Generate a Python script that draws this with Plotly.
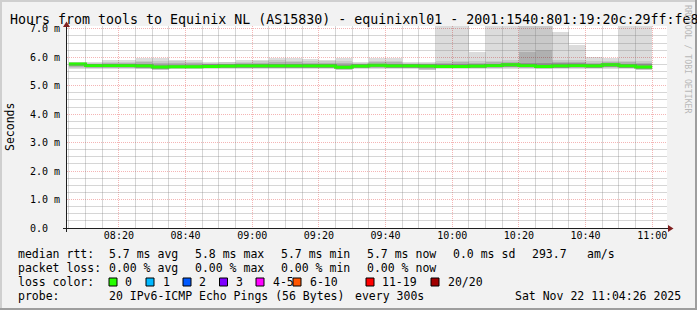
import plotly.graph_objects as go
import pandas as pd
import math

# ---------------- data ----------------
bin_starts = pd.date_range("2025-11-22 08:05", periods=35, freq="5min")
bin_centers = bin_starts + pd.Timedelta(minutes=2.5)
line_x = list(bin_starts) + [bin_starts[-1] + pd.Timedelta(minutes=5)]

smoke_max = [5.85, 5.83, 5.89, 5.89, 5.96, 5.96, 5.91, 5.90, 5.84, 5.85, 5.90, 5.90,
             5.99, 5.99, 5.93, 5.91, 5.99, 5.84, 5.96, 5.98, 5.84, 5.84, 7.60, 7.60,
             6.18, 7.60, 7.60, 7.60, 7.60, 6.89, 6.44, 6.00, 5.96, 7.60, 7.60]
smoke_hi2 = [5.82, 5.80, 5.84, 5.85, 5.88, 5.88, 5.86, 5.84, 5.81, 5.82, 5.85, 5.86,
             5.90, 5.88, 5.87, 5.86, 5.88, 5.81, 5.88, 5.88, 5.81, 5.81, 5.86, 5.88,
             5.86, 5.88, 5.90, 7.60, 7.60, 5.90, 5.90, 5.86, 5.88, 5.88, 5.86]
smoke_hi3 = [5.80, 5.77, 5.80, 5.80, 5.82, 5.80, 5.80, 5.79, 5.78, 5.78, 5.80, 5.81,
             5.83, 5.82, 5.81, 5.81, 5.80, 5.78, 5.82, 5.82, 5.78, 5.78, 5.81, 5.82,
             5.81, 5.82, 5.84, 6.20, 6.26, 5.84, 5.84, 5.81, 5.83, 5.82, 5.80]
smoke_q75 = [5.79, 5.76, 5.77, 5.77, 5.77, 5.74, 5.74, 5.74, 5.75, 5.75, 5.76, 5.77,
             5.77, 5.77, 5.77, 5.77, 5.73, 5.75, 5.78, 5.77, 5.76, 5.75, 5.78, 5.78,
             5.77, 5.78, 5.80, 5.80, 5.80, 5.80, 5.80, 5.77, 5.80, 5.77, 5.75]
smoke_q25 = [5.69, 5.65, 5.65, 5.65, 5.64, 5.60, 5.62, 5.62, 5.63, 5.64, 5.64, 5.64,
             5.64, 5.64, 5.64, 5.64, 5.59, 5.63, 5.65, 5.64, 5.64, 5.62, 5.64, 5.64,
             5.64, 5.65, 5.67, 5.65, 5.63, 5.64, 5.65, 5.64, 5.67, 5.64, 5.60]
smoke_lo3 = [5.66, 5.63, 5.63, 5.63, 5.62, 5.58, 5.61, 5.61, 5.62, 5.62, 5.62, 5.62,
             5.62, 5.62, 5.62, 5.62, 5.58, 5.62, 5.63, 5.62, 5.62, 5.59, 5.62, 5.62,
             5.62, 5.63, 5.65, 5.63, 5.61, 5.62, 5.63, 5.62, 5.65, 5.62, 5.58]
smoke_lo2 = [5.62, 5.61, 5.61, 5.61, 5.60, 5.57, 5.60, 5.60, 5.61, 5.61, 5.61, 5.61,
             5.61, 5.61, 5.61, 5.61, 5.57, 5.61, 5.61, 5.61, 5.61, 5.57, 5.61, 5.61,
             5.61, 5.61, 5.63, 5.61, 5.60, 5.61, 5.61, 5.61, 5.63, 5.61, 5.57]
smoke_min = [5.59, 5.59, 5.59, 5.59, 5.58, 5.55, 5.58, 5.58, 5.59, 5.59, 5.59, 5.59,
             5.59, 5.59, 5.59, 5.59, 5.55, 5.59, 5.59, 5.59, 5.59, 5.54, 5.59, 5.59,
             5.59, 5.59, 5.60, 5.59, 5.58, 5.59, 5.59, 5.59, 5.60, 5.59, 5.55]
median_rtt = [5.76, 5.71, 5.71, 5.71, 5.70, 5.66, 5.67, 5.67, 5.68, 5.69, 5.70, 5.70,
              5.70, 5.70, 5.70, 5.70, 5.65, 5.69, 5.72, 5.70, 5.70, 5.69, 5.68, 5.68,
              5.69, 5.71, 5.74, 5.71, 5.68, 5.70, 5.71, 5.70, 5.74, 5.70, 5.66]

x_range = ["2025-11-22 08:04:26", "2025-11-22 11:04:26"]
y_range = [0, 7.1]
x_tick_times = ["2025-11-22 08:20", "2025-11-22 08:40", "2025-11-22 09:00", "2025-11-22 09:20",
                "2025-11-22 09:40", "2025-11-22 10:00", "2025-11-22 10:20", "2025-11-22 10:40",
                "2025-11-22 11:00"]
x_tick_labels = ["08:20", "08:40", "09:00", "09:20", "09:40", "10:00", "10:20", "10:40", "11:00"]
y_tick_vals = [0, 1, 2, 3, 4, 5, 6, 7]
y_tick_labels = ["0.0\u00a0\u00a0", "1.0 m", "2.0 m", "3.0 m", "4.0 m", "5.0 m", "6.0 m", "7.0 m"]

loss_labels = ["0", "1", "2", "3", "4-5", "6-10", "11-19", "20/20"]
loss_colors = ["#26ff00", "#00b8ff", "#0059ff", "#7e00ff", "#ff00ff", "#ff5500", "#ff0000", "#a10000"]

rtt_avg, rtt_max, rtt_min, rtt_now, rtt_sd, rtt_amps = 5.7, 5.8, 5.7, 5.7, 0.0, 293.7
loss_avg, loss_max, loss_min, loss_now = 0.00, 0.00, 0.00, 0.00

title_text = "Hours from tools to Equinix NL (AS15830) - equinixnl01 - 2001:1540:801:19:20c:29ff:fe8"

# ---------------- layout geometry (pixels) ----------------
W, H = 697, 310
L, R, T, B = 67, 667, 26, 228
MONO = "DejaVu Sans Mono"

t0, t1 = pd.Timestamp(x_range[0]), pd.Timestamp(x_range[1])


def fx(px):
    return (px - L) / (R - L)


def fy(py):
    return (B - py) / (B - T)


# minor grid positions (5 min / 0.25 ms), majors excluded, snapped to pixel centres
x_minor_px = []
for t in pd.date_range("2025-11-22 08:05", "2025-11-22 11:00", freq="5min"):
    if t.minute % 20 != 0:
        p = L + (t - t0) / (t1 - t0) * (R - L)
        x_minor_px.append(math.floor(p) + 0.5)
y_minor_px = []
for i in range(1, 29):
    if i % 4 != 0:
        p = B - (i * 0.25) / y_range[1] * (B - T)
        y_minor_px.append(math.floor(p) + 0.5)

fig = go.Figure()

# smoke bands (nested, translucent black so grid shows through)
bands = [
    (smoke_min, smoke_max, "rgba(0,0,0,0.137)"),
    (smoke_lo2, smoke_hi2, "rgba(0,0,0,0.085)"),
    (smoke_lo3, smoke_hi3, "rgba(0,0,0,0.12)"),
    (smoke_q25, smoke_q75, "rgba(0,0,0,0.17)"),
]
for lo, hi, col in bands:
    fig.add_trace(go.Bar(
        x=bin_centers, base=lo, y=[h - l for h, l in zip(hi, lo)],
        width=300000, marker=dict(color=col, line=dict(width=0)),
        hoverinfo="skip"))

fig.add_trace(go.Scatter(
    x=line_x, y=median_rtt + [median_rtt[-1]], mode="lines",
    line=dict(color=loss_colors[0], width=3, shape="hv"), hoverinfo="skip"))

grid_major = "rgba(230,90,90,0.45)"
grid_minor = "rgba(120,120,120,0.3)"

fig.update_layout(
    width=W, height=H, autosize=False,
    margin=dict(l=L, r=W - R, t=T, b=H - B, pad=0),
    paper_bgcolor="#f2f2f2", plot_bgcolor="#ffffff",
    showlegend=False, barmode="overlay", bargap=0,
    font=dict(family=MONO, color="#000000"),
    xaxis=dict(
        type="date", range=x_range, tickmode="array",
        tickvals=x_tick_times, ticktext=x_tick_labels,
        showgrid=True, gridcolor=grid_major, griddash="1px,1px", gridwidth=1,
        ticks="", showline=False, zeroline=False,
        tickfont=dict(family=MONO, size=10, color="#000000"),
        fixedrange=True),
    yaxis=dict(
        range=y_range, tickmode="array", tickvals=y_tick_vals, ticktext=y_tick_labels,
        showgrid=True, gridcolor=grid_major, griddash="1px,1px", gridwidth=1,
        ticks="", showline=False, zeroline=False, ticklabelstandoff=6,
        tickfont=dict(family=MONO, size=10, color="#000000"),
        fixedrange=True),
)

shapes = []
# minor grid
for p in x_minor_px:
    shapes.append(dict(type="line", xref="paper", yref="paper", x0=fx(p), x1=fx(p),
                       y0=fy(B), y1=fy(T),
                       line=dict(color=grid_minor, width=1), layer="above"))
for p in y_minor_px:
    shapes.append(dict(type="line", xref="paper", yref="paper", x0=fx(L), x1=fx(R),
                       y0=fy(p), y1=fy(p),
                       line=dict(color=grid_minor, width=1), layer="above"))
# frame shading
shapes += [
    dict(type="rect", xref="paper", yref="paper", x0=fx(0), x1=fx(W), y0=fy(0), y1=fy(2),
         fillcolor="#cfcfcf", line=dict(width=0), layer="above"),
    dict(type="rect", xref="paper", yref="paper", x0=fx(0), x1=fx(2), y0=fy(0), y1=fy(H),
         fillcolor="#cfcfcf", line=dict(width=0), layer="above"),
    dict(type="rect", xref="paper", yref="paper", x0=fx(0), x1=fx(W), y0=fy(H - 2), y1=fy(H),
         fillcolor="#9e9e9e", line=dict(width=0), layer="above"),
    dict(type="rect", xref="paper", yref="paper", x0=fx(W - 2), x1=fx(W), y0=fy(0), y1=fy(H),
         fillcolor="#9e9e9e", line=dict(width=0), layer="above"),
]
# axes
shapes += [
    dict(type="line", xref="paper", yref="paper", x0=fx(63), x1=fx(669), y0=fy(228.5), y1=fy(228.5),
         line=dict(color="#1f1f1f", width=1), layer="above"),
    dict(type="line", xref="paper", yref="paper", x0=fx(66.5), x1=fx(66.5), y0=fy(232), y1=fy(24),
         line=dict(color="#1f1f1f", width=1), layer="above"),
    dict(type="path", xref="paper", yref="paper",
         path=f"M {fx(668)},{fy(225)} L {fx(673.5)},{fy(228.5)} L {fx(668)},{fy(232)} Z",
         fillcolor="#801f1f", line=dict(width=0), layer="above"),
    dict(type="path", xref="paper", yref="paper",
         path=f"M {fx(63)},{fy(27)} L {fx(66.5)},{fy(21.5)} L {fx(70)},{fy(27)} Z",
         fillcolor="#801f1f", line=dict(width=0), layer="above"),
]

# loss color swatches + labels
swatch_x = [109, 146, 183, 219.5, 256, 293, 366, 431]
label_x = [123, 160.7, 197.3, 234.3, 271, 308.3, 380, 445.7]
ann = []
for sx, lx, lab, col in zip(swatch_x, label_x, loss_labels, loss_colors):
    shapes.append(dict(type="rect", xref="paper", yref="paper",
                       x0=fx(sx), x1=fx(sx + 8), y0=fy(278), y1=fy(286),
                       fillcolor=col, line=dict(color="#000000", width=1), layer="above"))
    ann.append((lx, 282, lab))

fig.update_layout(shapes=shapes)

ann += [
    (16, 254, "median rtt:"),
    (107.3, 254, f"{rtt_avg:.1f} ms avg"),
    (193.3, 254, f"{rtt_max:.1f} ms max"),
    (279.3, 254, f"{rtt_min:.1f} ms min"),
    (365, 254, f"{rtt_now:.1f} ms now"),
    (451, 254, f"{rtt_sd:.1f} ms sd"),
    (530, 254, f"{rtt_amps:.1f}"),
    (585, 254, "am/s"),
    (16, 268, "packet loss:"),
    (107.3, 268, f"{loss_avg:.2f} % avg"),
    (193.3, 268, f"{loss_max:.2f} % max"),
    (279.3, 268, f"{loss_min:.2f} % min"),
    (365, 268, f"{loss_now:.2f} % now"),
    (16, 282, "loss color:"),
    (16, 296, "probe:"),
    (107.3, 296, "20 IPv6-ICMP Echo Pings (56 Bytes)"),
    (352.7, 296, "every 300s"),
    (513.3, 296, "Sat Nov 22 11:04:26 2025"),
]

annotations = []
for x, y, t in ann:
    annotations.append(dict(xref="paper", yref="paper", x=fx(x), y=fy(y), text=t,
                            showarrow=False, xanchor="left", yanchor="middle",
                            font=dict(family=MONO, size=11.5, color="#000000")))

annotations.append(dict(xref="paper", yref="paper", x=fx(8), y=fy(19.5), text=title_text,
                        showarrow=False, xanchor="left", yanchor="middle",
                        font=dict(family=MONO, size=13.3, color="#000000")))
annotations.append(dict(xref="paper", yref="paper", x=fx(10), y=fy(127), text="Seconds",
                        showarrow=False, xanchor="center", yanchor="middle", textangle=-90,
                        font=dict(family=MONO, size=11.5, color="#000000")))
annotations.append(dict(xref="paper", yref="paper", x=fx(688), y=fy(59),
                        text="RRDTOOL / TOBI OETIKER", showarrow=False,
                        xanchor="center", yanchor="middle", textangle=90,
                        font=dict(family=MONO, size=8.2, color="#b8b8b8")))
fig.update_layout(annotations=annotations)

fig.write_html("out.html")
